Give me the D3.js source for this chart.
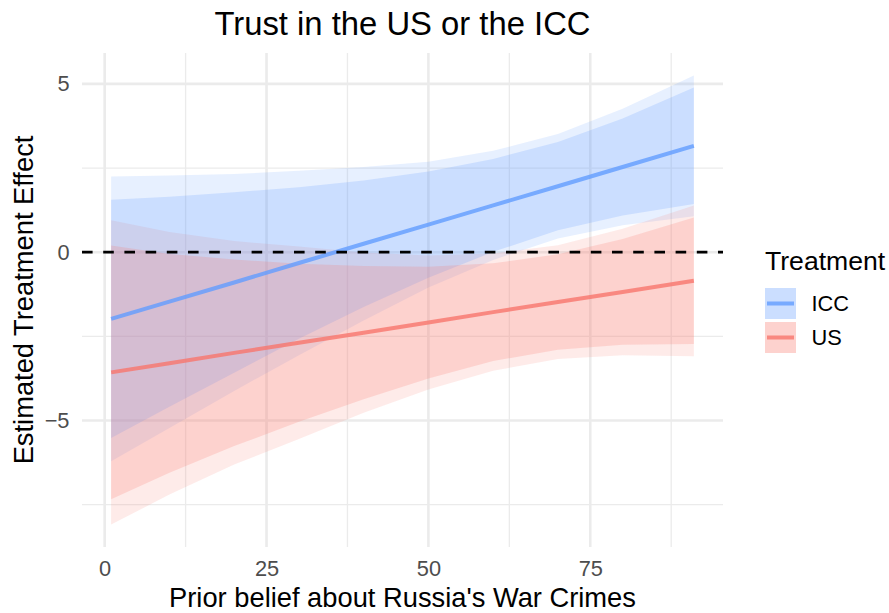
<!DOCTYPE html>
<html>
<head>
<meta charset="utf-8">
<script src="https://cdn.jsdelivr.net/npm/d3@7"></script>
<style>
  body { margin: 0; background: #fff; }
  text { font-family: "Liberation Sans", Arial, Helvetica, sans-serif; }
</style>
</head>
<body>
<svg id="chart" width="889" height="613"></svg>
<script>
// Prior belief values at which the treatment effect was evaluated
const priorBelief = [1, 10, 20, 30, 40, 50, 60, 70, 80, 91];

const treatments = ["ICC", "US"];
const treatmentColors = ["#619CFF", "#F8766D"];

// ICC: point estimate with 90% and 95% intervals
const iccEstimate = [-1.98, -1.47, -0.90, -0.32, 0.25, 0.82, 1.39, 1.96, 2.53, 3.16];
const iccLow90  = [-5.52, -4.59, -3.58, -2.57, -1.63, -0.76, 0.01, 0.65, 1.09, 1.43];
const iccHigh90 = [1.56, 1.65, 1.78, 1.93, 2.13, 2.40, 2.77, 3.27, 3.97, 4.89];
const iccLow95  = [-6.21, -5.22, -4.12, -3.06, -2.03, -1.05, -0.23, 0.41, 0.80, 1.07];
const iccHigh95 = [2.25, 2.28, 2.32, 2.42, 2.53, 2.69, 3.01, 3.51, 4.26, 5.25];

// US: point estimate with 90% and 95% intervals
const usEstimate = [-3.57, -3.30, -2.99, -2.69, -2.39, -2.09, -1.78, -1.48, -1.18, -0.85];
const usLow90  = [-7.34, -6.55, -5.76, -5.04, -4.37, -3.75, -3.23, -2.90, -2.75, -2.73];
const usHigh90 = [0.20, -0.05, -0.22, -0.34, -0.41, -0.43, -0.33, -0.06, 0.39, 1.03];
const usLow95  = [-8.09, -7.20, -6.31, -5.55, -4.77, -4.08, -3.52, -3.17, -3.06, -3.09];
const usHigh95 = [0.95, 0.60, 0.33, 0.17, -0.01, -0.10, -0.04, 0.21, 0.70, 1.39];

const xTicks = [0, 25, 50, 75];
const xMinorTicks = [12.5, 37.5, 62.5, 87.5];
const yTicks = [-5, 0, 5];
const yMinorTicks = [-7.5, -2.5, 2.5];

const titleText = "Trust in the US or the ICC";
const xTitle = "Prior belief about Russia's War Crimes";
const yTitle = "Estimated Treatment Effect";
const legendTitle = "Treatment";

// Assemble per-treatment rows
const seriesData = [
  { name: treatments[0], color: treatmentColors[0], est: iccEstimate, lo90: iccLow90, hi90: iccHigh90, lo95: iccLow95, hi95: iccHigh95 },
  { name: treatments[1], color: treatmentColors[1], est: usEstimate, lo90: usLow90, hi90: usHigh90, lo95: usLow95, hi95: usHigh95 }
].map(s => ({
  name: s.name,
  color: s.color,
  rows: priorBelief.map((x, i) => ({ x, est: s.est[i], lo90: s.lo90[i], hi90: s.hi90[i], lo95: s.lo95[i], hi95: s.hi95[i] }))
}));

// Panel geometry
const panel = { left: 82, right: 723, top: 53, bottom: 547 };

function expand(ext, mult = 0.05) {
  const pad = (ext[1] - ext[0]) * mult;
  return [ext[0] - pad, ext[1] + pad];
}

const x = d3.scaleLinear()
  .domain(expand(d3.extent(priorBelief)))
  .range([panel.left, panel.right]);

const yMin = d3.min(seriesData, s => d3.min(s.rows, r => r.lo95));
const yMax = d3.max(seriesData, s => d3.max(s.rows, r => r.hi95));
const y = d3.scaleLinear()
  .domain(expand([yMin, yMax]))
  .range([panel.bottom, panel.top]);

const svg = d3.select("#chart");
svg.append("rect").attr("width", 889).attr("height", 613).attr("fill", "#fff");

// Grid
const grid = svg.append("g").attr("stroke", "#EBEBEB").attr("fill", "none");
grid.selectAll(".ymin").data(yMinorTicks).join("line")
  .attr("x1", panel.left).attr("x2", panel.right)
  .attr("y1", d => y(d)).attr("y2", d => y(d)).attr("stroke-width", 1.3);
grid.selectAll(".xmin").data(xMinorTicks).join("line")
  .attr("y1", panel.top).attr("y2", panel.bottom)
  .attr("x1", d => x(d)).attr("x2", d => x(d)).attr("stroke-width", 1.3);
grid.selectAll(".ymaj").data(yTicks).join("line")
  .attr("x1", panel.left).attr("x2", panel.right)
  .attr("y1", d => y(d)).attr("y2", d => y(d)).attr("stroke-width", 2.6);
grid.selectAll(".xmaj").data(xTicks).join("line")
  .attr("y1", panel.top).attr("y2", panel.bottom)
  .attr("x1", d => x(d)).attr("x2", d => x(d)).attr("stroke-width", 2.6);

// Ribbons: 95% band first, then 90% band
const area95 = d3.area().x(d => x(d.x)).y0(d => y(d.lo95)).y1(d => y(d.hi95));
const area90 = d3.area().x(d => x(d.x)).y0(d => y(d.lo90)).y1(d => y(d.hi90));

svg.append("g").selectAll("path").data(seriesData).join("path")
  .attr("d", s => area95(s.rows)).attr("fill", s => s.color).attr("fill-opacity", 0.15);
svg.append("g").selectAll("path").data(seriesData).join("path")
  .attr("d", s => area90(s.rows)).attr("fill", s => s.color).attr("fill-opacity", 0.21);

// Estimate lines
const line = d3.line().x(d => x(d.x)).y(d => y(d.est));
svg.append("g").selectAll("path").data(seriesData).join("path")
  .attr("d", s => line(s.rows)).attr("fill", "none")
  .attr("stroke", s => s.color).attr("stroke-width", 4).attr("stroke-opacity", 0.8);

// Zero reference
svg.append("line")
  .attr("x1", panel.left).attr("x2", panel.right)
  .attr("y1", y(0)).attr("y2", y(0))
  .attr("stroke", "#000").attr("stroke-width", 2.7)
  .attr("stroke-dasharray", "10.6,10.6");

// Axes
const yAxis = svg.append("g")
  .attr("transform", `translate(${panel.left},0)`)
  .call(d3.axisLeft(y).tickValues(yTicks).tickSize(0).tickPadding(12.5));
yAxis.select(".domain").remove();
yAxis.selectAll("text").attr("font-size", 21.8).attr("fill", "#4D4D4D")
  .style("font-family", "'Liberation Sans', Arial, sans-serif");

const xAxis = svg.append("g")
  .attr("transform", `translate(0,${panel.bottom})`)
  .call(d3.axisBottom(x).tickValues(xTicks).tickSize(0).tickPadding(13.5));
xAxis.select(".domain").remove();
xAxis.selectAll("text").attr("font-size", 21.8).attr("fill", "#4D4D4D")
  .style("font-family", "'Liberation Sans', Arial, sans-serif");

// Titles
svg.append("text")
  .attr("x", (panel.left + panel.right) / 2).attr("y", 35)
  .attr("text-anchor", "middle").attr("font-size", 32.8).attr("fill", "#000")
  .text(titleText);

svg.append("text")
  .attr("x", (panel.left + panel.right) / 2).attr("y", 607)
  .attr("text-anchor", "middle").attr("font-size", 27.3).attr("fill", "#000")
  .text(xTitle);

svg.append("text")
  .attr("transform", `translate(33,${(panel.top + panel.bottom) / 2}) rotate(-90)`)
  .attr("text-anchor", "middle").attr("font-size", 27.3).attr("fill", "#000")
  .text(yTitle);

// Legend
const legend = svg.append("g").attr("transform", "translate(765,0)");
legend.append("text")
  .attr("x", 0).attr("y", 270)
  .attr("font-size", 26.6).attr("fill", "#000")
  .text(legendTitle);

const keySize = 31, keyTop = 288, keyStep = 34;
const keys = legend.selectAll(".key").data(seriesData).join("g")
  .attr("transform", (d, i) => `translate(0,${keyTop + i * keyStep})`);
keys.append("rect").attr("width", keySize).attr("height", keySize)
  .attr("fill", d => d.color).attr("fill-opacity", 0.15);
keys.append("rect").attr("width", keySize).attr("height", keySize)
  .attr("fill", d => d.color).attr("fill-opacity", 0.21);
keys.append("line")
  .attr("x1", 2).attr("x2", keySize - 2)
  .attr("y1", keySize / 2).attr("y2", keySize / 2)
  .attr("stroke", d => d.color).attr("stroke-width", 4).attr("stroke-opacity", 0.8);
keys.append("text")
  .attr("x", 46.5).attr("y", keySize / 2 + 7.8)
  .attr("font-size", 21.8).attr("fill", "#000")
  .text(d => d.name);
</script>
</body>
</html>
